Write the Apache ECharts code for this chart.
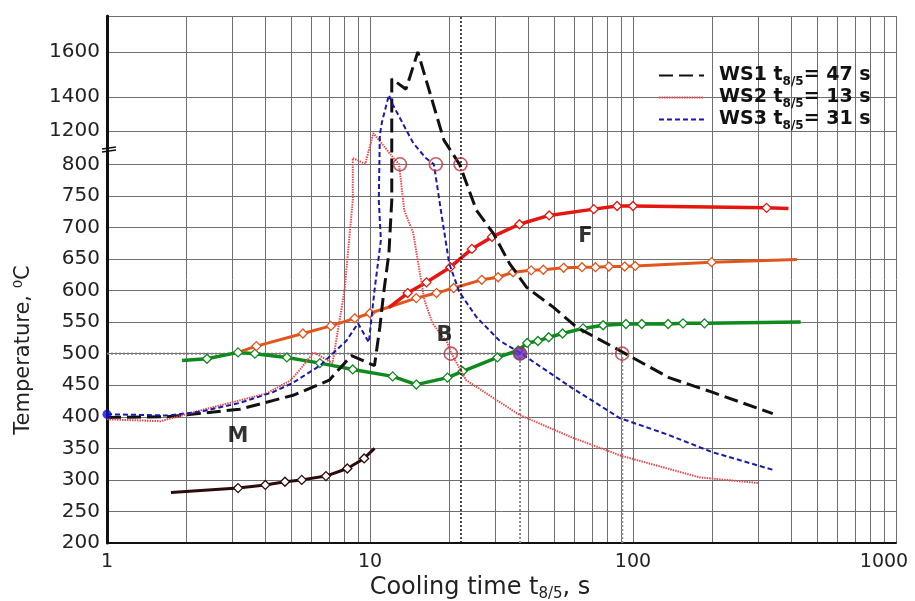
<!DOCTYPE html>
<html>
<head>
<meta charset="utf-8">
<script src="https://cdn.jsdelivr.net/npm/echarts@6/dist/echarts.min.js"></script>
<style>
  html, body { margin: 0; padding: 0; background: #fff; }
  #chart { width: 915px; height: 601px; }
</style>
</head>
<body>
<div id="chart"></div>
<script>
// cooling curves [t (s), T (°C)]
const ws1 = [[1,399],[1.7,400],[3.2,412],[4.3,426],[5.1,434],[7,458],[8.5,497],[10.4,481],[10.9,542],[11.3,600],[11.8,659],[12.1,743],[12.1,1480],[13.7,1434],[15.2,1600],[19.1,1089],[21.9,800],[25.4,727],[29.4,691],[33.9,643],[39.4,605],[50,573],[61,542],[89,505],[137,462],[200,439],[340,405]];
const ws2 = [[1,396],[1.6,393],[2.26,410],[3.2,426],[4.05,437],[5,458],[5.4,474],[6.1,502],[7.2,485],[8.0,600],[8.6,743],[8.6,875],[9.6,805],[10.3,1173],[12.2,887],[12.9,800],[13.5,727],[14.6,691],[16.1,585],[17.3,548],[19.7,517],[20.3,502],[23.2,458],[37,403],[58,368],[89,339],[179,304],[300,295]];
const ws3 = [[1,404],[1.7,402],[2.26,408],[3.2,422],[4.28,439],[5.1,454],[6.45,481],[8.15,521],[9.0,548],[9.9,518],[10.4,600],[11.0,680],[10.8,743],[10.9,1150],[11.1,1250],[11.8,1408],[12.2,1355],[14.6,1054],[16.3,875],[17.5,800],[18.6,727],[20,643],[21.9,597],[25.4,558],[31,521],[37,502],[58,447],[89,398],[137,371],[200,344],[340,316]];

// transformation lines (first and last points carry no marker)
const ferriteLine = [[11.8,573],[13.9,596],[16.4,613],[20.2,637],[24.4,666],[29.1,685],[37,705],[48,719],[71,729],[87,734],[100,734],[322,731],[390,730]];
const pearliteLine = [[3.15,502],[3.7,512],[5.56,532],[7.1,544],[8.75,556],[10,564],[15,588],[17.9,596],[20.8,604],[26.6,617],[30.7,621],[35,629],[41,632],[45.6,633],[54.5,636],[64,637],[72,637],[81,638],[93,638],[102,639],[199,645],[420,649]];
const bainiteLine = [[1.93,489],[2.4,492],[3.15,502],[3.65,500],[4.83,494],[6.45,485],[8.6,475],[12.2,464],[15,451],[19.7,462],[22.5,472],[30.5,494],[36.6,505],[39.6,517],[43.5,520],[47.8,526],[54,532],[64.6,540],[77,545],[94,547],[108,547],[136,547],[155,548],[187,548],[434,550]];
const msLine = [[1.75,280],[3.15,287],[4,292],[4.75,297],[5.5,300],[6.8,306],[8.2,318],[9.5,334],[10.4,350]];

const redCircles = [[13,800],[17.8,800],[22.1,800],[20.3,500],[91,500]];
const purpleDot = [[37.2,500]];
const blueDot = [[1,404]];

const refLine500 = [[1,500],[91,500]];
const dropLine1 = [[37.2,200],[37.2,500]];
const dropLine2 = [[91,200],[91,500]];
const t85Line = 22.2;

const regionLabels = [['M',3.15,368],['B',19.2,529],['F',66,686]];

const xTicks = [1,2,3,4,5,6,7,8,9,10,20,30,40,50,60,70,80,90,100,200,300,400,500,600,700,800,900,1000];
const xLabels = [1,10,100,1000];
const yLabels = [200,250,300,350,400,450,500,550,600,650,700,750,800,1200,1400,1600];
// broken axis: real temperature -> axis position
const breakReal = [800,1200,1400,1600,1700];
const breakPos = [800,853,907,978,1014];
const yTop = 1035;

function yMap(t) {
  if (t <= 800) return t;
  for (let i = 1; i < breakReal.length; i++) {
    if (t <= breakReal[i]) {
      const f = (t - breakReal[i-1]) / (breakReal[i] - breakReal[i-1]);
      return breakPos[i-1] + f * (breakPos[i] - breakPos[i-1]);
    }
  }
  return breakPos[breakPos.length-1];
}
const conv = arr => arr.map(p => [p[0], yMap(p[1])]);
const withMarkers = arr => conv(arr).map((p, i) =>
  (i === 0 || i === arr.length - 1) ? { value: p, symbol: 'none' } : p);

const yPos = yLabels.map(yMap);
const font = 'DejaVu Sans';

const chart = echarts.init(document.getElementById('chart'));

function tcurve(data, color, width) {
  return {
    type: 'line', data: withMarkers(data), symbol: 'diamond', symbolSize: 9,
    lineStyle: { color: color, width: width },
    itemStyle: { color: '#fff', borderColor: color, borderWidth: 1.3 },
    z: 3, animation: false
  };
}
function refLine(data, color) {
  return {
    type: 'line', data: conv(data), symbol: 'none',
    lineStyle: { color: color, width: 2, type: [2, 2] }, z: 2, animation: false
  };
}
function wsCurve(name, data, color, width, dash) {
  return {
    name: name, type: 'line', data: conv(data), symbol: 'none', z: 4, color: color,
    lineStyle: { color: color, width: width, type: dash }
  };
}

chart.setOption({
  animation: false,
  grid: { left: 107, right: 19, top: 16, bottom: 58, outerBoundsMode: 'none' },
  xAxis: {
    type: 'log', logBase: 10, min: 1, max: 1000,
    axisLine: { lineStyle: { color: '#111', width: 2 } },
    axisTick: { show: false, customValues: xTicks },
    axisLabel: {
      customValues: xLabels, color: '#222', fontSize: 19, fontFamily: font, margin: 10,
      formatter: v => v >= 1000 ? '{r|' + v + '}' : String(v),
      rich: { r: { fontSize: 19, fontFamily: font, color: '#222', padding: [0, 24, 0, 0] } }
    },
    splitLine: { show: true, lineStyle: { color: '#6f6f6f', width: 1 } }
  },
  yAxis: {
    type: 'value', min: 200, max: yTop,
    axisLine: { show: true, lineStyle: { color: '#111', width: 3 } },
    axisTick: { show: false, customValues: yPos.concat([yTop]) },
    axisLabel: {
      customValues: yPos, color: '#222', fontSize: 20, fontFamily: font, margin: 7,
      formatter: v => {
        const i = yPos.findIndex(p => Math.abs(p - v) < 0.01);
        return i >= 0 ? String(yLabels[i]) : '';
      }
    },
    splitLine: { show: true, lineStyle: { color: '#6f6f6f', width: 1 } }
  },
  legend: {
    data: ['WS1', 'WS2', 'WS3'], orient: 'vertical', left: 653, top: 61,
    itemWidth: 45, itemHeight: 10, itemGap: 0,
    itemStyle: { opacity: 0 },
    formatter: name => {
      const t = { WS1: '47', WS2: '13', WS3: '31' }[name];
      return '{b|' + name + ' t}{s|8/5}{b|= ' + t + ' s}';
    },
    textStyle: {
      padding: [0, 0, 0, 10],
      rich: {
        b: { fontSize: 19, fontWeight: 'bold', fontFamily: font, color: '#111', lineHeight: 23 },
        s: { fontSize: 12, fontWeight: 'bold', fontFamily: font, color: '#111', lineHeight: 23, verticalAlign: 'bottom', padding: [0, 0, -1, 0] }
      }
    }
  },
  graphic: [
    { type: 'text', x: 24, y: 350, rotation: Math.PI / 2,
      style: { text: 'Temperature, \u2070C', fill: '#222', font: '21px "DejaVu Sans"', align: 'center', verticalAlign: 'middle' } },
    { type: 'text', x: 480, y: 588,
      style: {
        text: '{a|Cooling time t}{s|8/5}{a|, s}', align: 'center', verticalAlign: 'middle',
        rich: {
          a: { fontSize: 24, fontFamily: font, fill: '#222', lineHeight: 28 },
          s: { fontSize: 15, fontFamily: font, fill: '#222', lineHeight: 28, verticalAlign: 'bottom', padding: [0, 0, 0, 0] }
        }
      } },
    { type: 'line', shape: { x1: 102, y1: 149, x2: 116, y2: 147 }, style: { stroke: '#111', lineWidth: 1.5 } },
    { type: 'line', shape: { x1: 102, y1: 152, x2: 116, y2: 150 }, style: { stroke: '#111', lineWidth: 1.5 } }
  ],
  series: [
    Object.assign(refLine(refLine500, '#7a7a7a'), {
      markLine: {
        silent: true, symbol: 'none', label: { show: false },
        lineStyle: { color: '#111', width: 1.5, type: [2, 2] },
        data: [{ xAxis: t85Line }]
      }
    }),
    refLine(dropLine1, '#8a8a8a'),
    refLine(dropLine2, '#8a8a8a'),
    tcurve(bainiteLine, '#0e8a1e', 3.5),
    tcurve(pearliteLine, '#e0561c', 3),
    tcurve(ferriteLine, '#e4160f', 3.5),
    tcurve(msLine, '#2b0b0b', 3),
    wsCurve('WS1', ws1, '#111', 3, [14, 6]),
    wsCurve('WS2', ws2, '#ea4b4f', 2, [1.5, 1]),
    wsCurve('WS3', ws3, '#1a1aa8', 2, [5, 3]),
    { type: 'scatter', data: conv(redCircles), symbol: 'circle', symbolSize: 13, z: 5,
      itemStyle: { color: 'rgba(255,255,255,0)', borderColor: '#c0303a', borderWidth: 1.6 } },
    { type: 'scatter', data: conv(purpleDot), symbol: 'circle', symbolSize: 13, z: 5,
      itemStyle: { color: '#6b2bc4', borderColor: '#8a3a3a', borderWidth: 1.6 } },
    { type: 'scatter', data: conv(blueDot), symbol: 'circle', symbolSize: 9, z: 5,
      itemStyle: { color: '#1010c8' } },
    { type: 'scatter', symbolSize: 0, z: 6,
      data: regionLabels.map(r => ({ name: r[0], value: [r[1], yMap(r[2])] })),
      label: { show: true, position: 'inside', formatter: '{b}', color: '#000',
        fontSize: 21, fontWeight: 'bold', fontFamily: font } }
  ]
});
</script>
</body>
</html>
